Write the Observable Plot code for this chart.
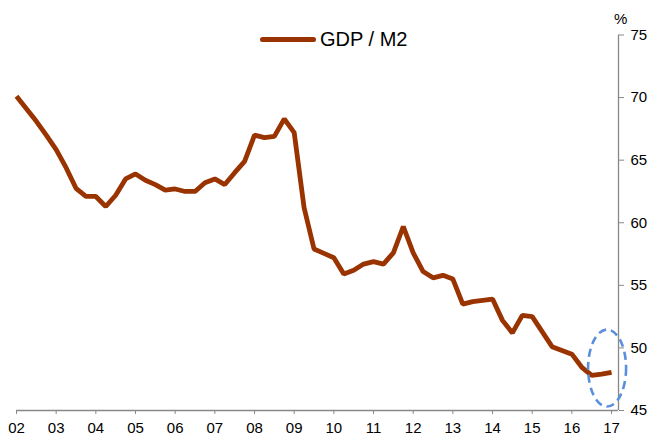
<!DOCTYPE html>
<html>
<head>
<meta charset="utf-8">
<script src="https://cdn.jsdelivr.net/npm/d3@7"></script>
<script src="https://cdn.jsdelivr.net/npm/@observablehq/plot@0.6"></script>
<style>
  html, body { margin: 0; padding: 0; background: #fff; }
  #wrap { position: relative; width: 653px; height: 440px; font-family: "Liberation Sans", Arial, sans-serif; }
  #legend { position: absolute; left: 260px; top: 26px; height: 26px; display: flex; align-items: center; font-size: 20px; color: #000; }
  #legend .swatch { width: 56px; height: 5px; border-radius: 3px; background: #993300; margin-right: 4px; }
  #unit { position: absolute; left: 614px; top: 10px; font-size: 15px; color: #000; }
</style>
</head>
<body>
<div id="wrap">
  <div id="chart"></div>
  <div id="legend"><div class="swatch"></div><span>GDP / M2</span></div>
  <div id="unit">%</div>
</div>
<script>
// Quarterly GDP / M2 ratio (%), 2002Q1 .. 2017Q1
const startYear = 2002;
const seriesName = "GDP / M2";
const values = [
  70.1, 69.1, 68.1, 67.0, 65.85, 64.4, 62.75, 62.1,
  62.1, 61.3, 62.2, 63.5, 63.9, 63.4, 63.05, 62.6,
  62.7, 62.5, 62.5, 63.2, 63.5, 63.05, 64.0, 64.9,
  67.0, 66.8, 66.9, 68.3, 67.2, 61.2, 57.9, 57.55,
  57.2, 55.9, 56.2, 56.7, 56.9, 56.7, 57.6, 59.7,
  57.6, 56.1, 55.6, 55.8, 55.5, 53.5, 53.7, 53.8,
  53.9, 52.2, 51.2, 52.6, 52.5, 51.3, 50.1, 49.8,
  49.5, 48.45, 47.8, 47.9, 48.05
];
const xTicks = d3.range(2002, 2018);
const xTickLabels = ["02","03","04","05","06","07","08","09","10","11","12","13","14","15","16","17"];
const yTicks = [45, 50, 55, 60, 65, 70, 75];
// highlight ellipse around the latest readings (center in data units)
const highlightCenter = {x: 2016.9, y: 48.35};

const data = values.map((v, i) => ({date: startYear + i / 4, value: v}));
const xMax = 2017.175;
const axisColor = "#888888";

const ellipseMark = (index, scales) => {
  const cx = scales.x(highlightCenter.x), cy = scales.y(highlightCenter.y);
  const e = d3.create("svg:ellipse")
    .attr("cx", cx).attr("cy", cy).attr("rx", 19).attr("ry", 38.5)
    .attr("fill", "none").attr("stroke", "#5B8FDB").attr("stroke-width", 2.6)
    .attr("stroke-dasharray", "8,5");
  return e.node();
};

const chart = Plot.plot({
  width: 653,
  height: 440,
  marginLeft: 16,
  marginRight: 35,
  marginTop: 34.5,
  marginBottom: 30,
  style: {fontFamily: "'Liberation Sans', Arial, sans-serif", fontSize: "15px", color: "#000", background: "#fff"},
  x: {domain: [2002, xMax]},
  y: {domain: [45, 75]},
  marks: [
    Plot.axisX({ticks: xTicks, tickFormat: (d, i) => xTickLabels[xTicks.indexOf(d)], tickSize: 4, tickPadding: 8, stroke: axisColor, label: null, fontSize: 15, color: "#000"}),
    Plot.axisY({anchor: "right", ticks: yTicks, tickSize: 5, tickPadding: 7, stroke: axisColor, label: null, fontSize: 15}),
    Plot.ruleY([45], {x1: 2002, x2: xMax, stroke: axisColor, strokeWidth: 1.3}),
    Plot.ruleX([xMax], {y1: 45, y2: 75, stroke: axisColor, strokeWidth: 1.3}),
    Plot.line(data, {x: "date", y: "value", stroke: "#993300", strokeWidth: 4.8, strokeLinejoin: "miter", strokeLinecap: "butt"}),
    ellipseMark
  ]
});
document.getElementById("chart").appendChild(chart);
</script>
</body>
</html>
